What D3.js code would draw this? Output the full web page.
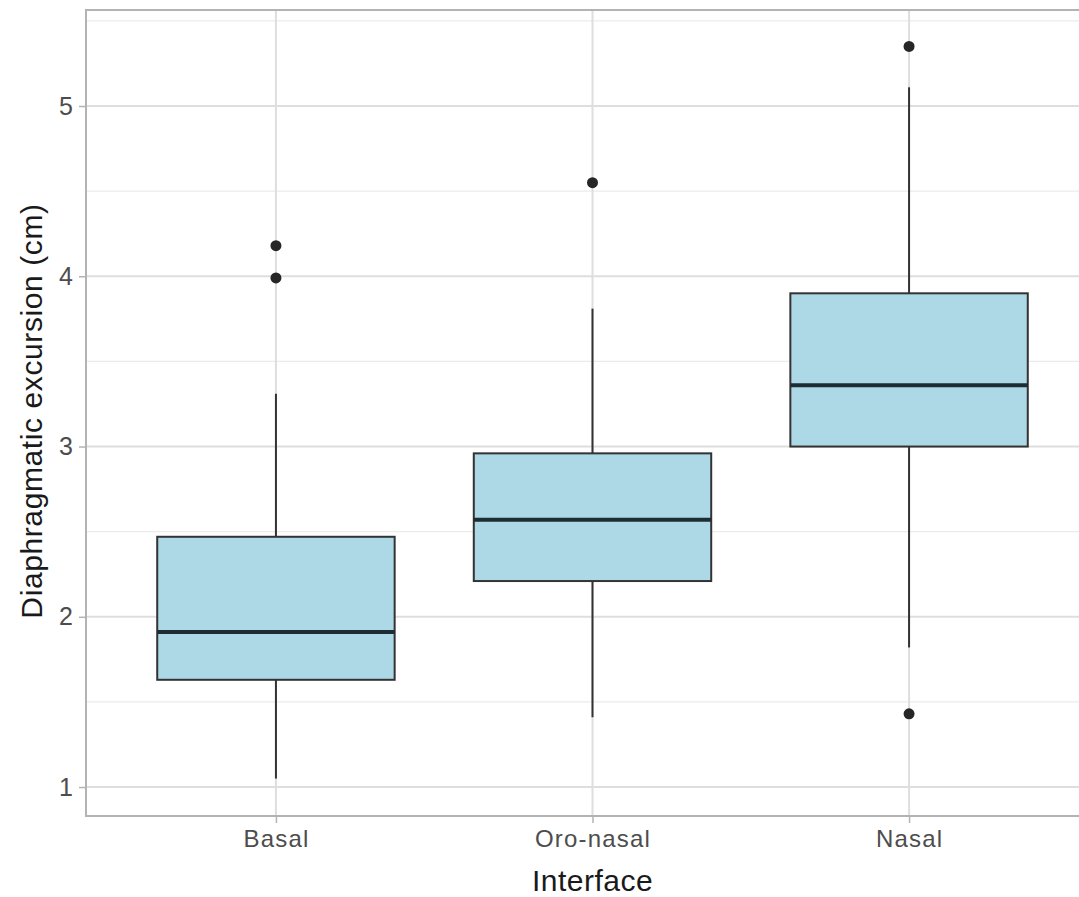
<!DOCTYPE html>
<html>
<head>
<meta charset="utf-8">
<script src="https://cdn.jsdelivr.net/npm/d3@7"></script>
<style>
  body { margin: 0; background: #fff; }
  text { font-family: "Liberation Sans", Arial, sans-serif; }
</style>
</head>
<body>
<svg id="chart" width="1079" height="897"></svg>
<script>
// Box statistics (cm)
const groups = ['Basal', 'Oro-nasal', 'Nasal'];
const q1 = [1.63, 2.21, 3.00];
const median = [1.91, 2.57, 3.36];
const q3 = [2.47, 2.96, 3.90];
const whiskerLow = [1.05, 1.41, 1.82];
const whiskerHigh = [3.31, 3.81, 5.11];
const outliers = [[3.99, 4.18], [4.55], [5.35, 1.43]];
const yTicks = [1, 2, 3, 4, 5];
const yMinor = [1.5, 2.5, 3.5, 4.5, 5.5];

const svg = d3.select('#chart');
const margin = { left: 86, top: 10, right: -20, bottom: 81 };
const W = 1079, H = 897;
const x0 = margin.left, x1 = W - margin.right;
const y0 = margin.top, y1 = H - margin.bottom;

// discrete x with ggplot's 0.6 expansion
const x = d3.scaleLinear().domain([0.4, groups.length + 0.6]).range([x0, x1]);
const y = d3.scaleLinear().domain([0.83, 5.564]).range([y1, y0]);
const boxW = x(1.75) - x(1);

const g = svg.append('g');

// minor grid
g.selectAll('.minor').data(yMinor).enter().append('line')
    .attr('x1', x0).attr('x2', x1)
    .attr('y1', d => y(d)).attr('y2', d => y(d))
    .style('stroke', '#ebebeb').style('stroke-width', 1.2);

// major grid
g.selectAll('.major-y').data(yTicks).enter().append('line')
    .attr('x1', x0).attr('x2', x1)
    .attr('y1', d => y(d)).attr('y2', d => y(d))
    .style('stroke', '#dedede').style('stroke-width', 2);

g.selectAll('.major-x').data(groups).enter().append('line')
    .attr('x1', (d, i) => x(i + 1)).attr('x2', (d, i) => x(i + 1))
    .attr('y1', y0).attr('y2', y1)
    .style('stroke', '#dedede').style('stroke-width', 2);

// boxes
const box = g.selectAll('.box').data(groups).enter().append('g');

box.append('line')
    .attr('x1', (d, i) => x(i + 1)).attr('x2', (d, i) => x(i + 1))
    .attr('y1', (d, i) => y(whiskerHigh[i])).attr('y2', (d, i) => y(q3[i]))
    .style('stroke', '#333').style('stroke-width', 2);

box.append('line')
    .attr('x1', (d, i) => x(i + 1)).attr('x2', (d, i) => x(i + 1))
    .attr('y1', (d, i) => y(q1[i])).attr('y2', (d, i) => y(whiskerLow[i]))
    .style('stroke', '#333').style('stroke-width', 2);

box.append('rect')
    .attr('x', (d, i) => x(i + 1) - boxW / 2)
    .attr('width', boxW)
    .attr('y', (d, i) => y(q3[i]))
    .attr('height', (d, i) => y(q1[i]) - y(q3[i]))
    .style('fill', '#add8e6')
    .style('stroke', '#333').style('stroke-width', 2);

box.append('line')
    .attr('x1', (d, i) => x(i + 1) - boxW / 2).attr('x2', (d, i) => x(i + 1) + boxW / 2)
    .attr('y1', (d, i) => y(median[i])).attr('y2', (d, i) => y(median[i]))
    .style('stroke', '#1e2d32').style('stroke-width', 4);

groups.forEach((grp, i) => {
    g.selectAll('.out-' + i).data(outliers[i]).enter().append('circle')
        .attr('cx', x(i + 1))
        .attr('cy', d => y(d))
        .attr('r', 5.5)
        .style('fill', '#262626');
});

// panel border
g.append('rect')
    .attr('x', x0).attr('y', y0)
    .attr('width', x1 - x0).attr('height', y1 - y0)
    .style('fill', 'none').style('stroke', '#b3b3b3').style('stroke-width', 2);

// y axis
const yAxis = g.append('g')
    .attr('transform', `translate(${x0},0)`)
    .call(d3.axisLeft(y).tickValues(yTicks).tickSize(7).tickPadding(6).tickFormat(d3.format('d')));
yAxis.select('.domain').remove();
yAxis.selectAll('.tick line').style('stroke', '#b3b3b3').style('stroke-width', 1.5);
yAxis.selectAll('.tick text')
    .style('font-size', '25px').style('fill', '#4d4d4d')
    .style('font-family', '"Liberation Sans", Arial, sans-serif');

// x axis
const xAxis = g.append('g')
    .attr('transform', `translate(0,${y1})`)
    .call(d3.axisBottom(x).tickValues([1, 2, 3]).tickSize(7).tickPadding(7)
        .tickFormat(d => groups[d - 1]));
xAxis.select('.domain').remove();
xAxis.selectAll('.tick line').style('stroke', '#b3b3b3').style('stroke-width', 1.5);
xAxis.selectAll('.tick text')
    .style('font-size', '24px').style('fill', '#4d4d4d')
    .style('letter-spacing', '1.2px')
    .style('font-family', '"Liberation Sans", Arial, sans-serif');

// axis titles
svg.append('text')
    .attr('x', x(2)).attr('y', 891)
    .attr('text-anchor', 'middle')
    .style('font-size', '30px').style('fill', '#1a1a1a')
    .style('letter-spacing', '0.5px')
    .text('Interface');

svg.append('text')
    .attr('transform', `translate(42,${(y0 + y1) / 2 - 2}) rotate(-90)`)
    .attr('text-anchor', 'middle')
    .style('font-size', '30px').style('fill', '#1a1a1a')
    .style('letter-spacing', '0.6px')
    .text('Diaphragmatic excursion (cm)');
</script>
</body>
</html>
